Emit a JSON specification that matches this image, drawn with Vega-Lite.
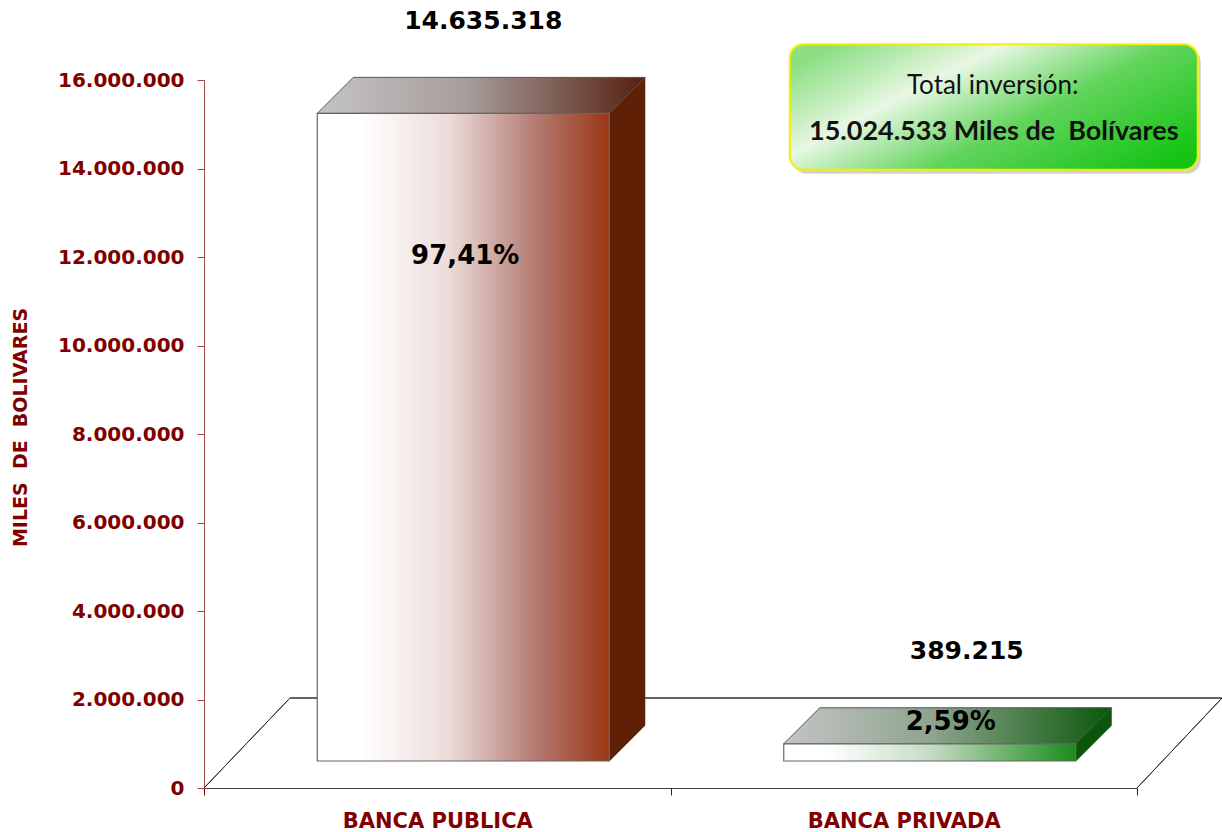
{
  "$schema": "https://vega.github.io/schema/vega-lite/v6.json",
  "width": 933,
  "height": 708,
  "autosize": "none",
  "padding": {"left": 204, "top": 80, "right": 85, "bottom": 44},
  "background": "white",
  "config": {
    "view": {"stroke": null},
    "font": "DejaVu Sans",
    "locale": {"number": {"decimal": ",", "thousands": ".", "grouping": [3], "currency": ["", ""]}},
    "axisY": {
      "tickCount": 8, "format": ",d", "grid": false,
      "titleFont": "DejaVu Sans", "titleFontSize": 19, "titleFontWeight": "bold", "titleColor": "#800000",
      "titleAngle": -90, "titleX": -184, "titleY": 347, "titleAlign": "center", "titleBaseline": "middle",
      "labelFont": "DejaVu Sans", "labelFontSize": 20, "labelFontWeight": "bold", "labelColor": "#800000",
      "labelPadding": 13, "tickSize": 7, "tickColor": "#a04848", "domainColor": "#a04848"
    },
    "axisX": {
      "labelAngle": 0, "labelFont": "DejaVu Sans", "labelFontSize": 21, "labelFontWeight": "bold",
      "labelColor": "#800000", "labelPadding": 15, "labelLimit": 0, "tickSize": 7, "tickColor": "#800000",
      "domainColor": "#404040", "tickBand": "extent", "grid": false
    }
  },
  "data": {"values": [
    {"banca": "BANCA PUBLICA", "monto": 14635318, "pct": "97,41%"},
    {"banca": "BANCA PRIVADA", "monto": 389215, "pct": "2,59%"}
  ]},
  "encoding": {
    "x": {
      "field": "banca", "type": "nominal", "sort": null,
      "scale": {"paddingInner": 0, "paddingOuter": 0},
      "axis": {"title": null}
    }
  },
  "layer": [
    {
      "mark": {"type": "rule", "stroke": "#333333", "strokeWidth": 1, "yOffset": -90, "xOffset": 86, "x2Offset": 85},
      "encoding": {
        "x": {"datum": "BANCA PUBLICA", "bandPosition": 0, "axis": {"title": null}},
        "x2": {"datum": "BANCA PRIVADA", "bandPosition": 1},
        "y": {"datum": 0, "type": "quantitative", "scale": {"domain": [0, 16000000], "nice": false}, "axis": {"title": "MILES \u00a0DE \u00a0BOLIVARES"}}
      }
    },
    {
      "mark": {"type": "rule", "stroke": "#333333", "strokeWidth": 1, "x2Offset": 86, "y2Offset": -90},
      "encoding": {
        "x": {"datum": "BANCA PUBLICA", "bandPosition": 0, "axis": {"title": null}},
        "x2": {"datum": "BANCA PUBLICA", "bandPosition": 0},
        "y": {"datum": 0, "type": "quantitative", "scale": {"domain": [0, 16000000], "nice": false}, "axis": {"title": "MILES \u00a0DE \u00a0BOLIVARES"}},
        "y2": {"datum": 0}
      }
    },
    {
      "mark": {"type": "rule", "stroke": "#333333", "strokeWidth": 1, "x2Offset": 85, "y2Offset": -90},
      "encoding": {
        "x": {"datum": "BANCA PRIVADA", "bandPosition": 1, "axis": {"title": null}},
        "x2": {"datum": "BANCA PRIVADA", "bandPosition": 1},
        "y": {"datum": 0, "type": "quantitative", "scale": {"domain": [0, 16000000], "nice": false}, "axis": {"title": "MILES \u00a0DE \u00a0BOLIVARES"}},
        "y2": {"datum": 0}
      }
    },
    {
      "mark": {"type": "bar", "width": 36, "xOffset": 190, "yOffset": -63, "y2Offset": -27},
      "encoding": {
        "y": {"field": "monto", "type": "quantitative", "scale": {"domain": [0, 16000000], "nice": false}, "axis": {"title": "MILES \u00a0DE \u00a0BOLIVARES"}},
        "y2": {"datum": 0},
        "fill": {"condition": {"test": "datum.banca === 'BANCA PUBLICA'", "value": "#5e1f04"}, "value": "#0a560a"}
      }
    },
    {
      "mark": {"type": "point", "filled": true, "opacity": 1, "size": 4, "xOffset": 26, "yOffset": -27,
        "shape": "M 146 0.5 L 183 0.5 L 183 -36.5 Z", "fill": "#ffffff", "strokeWidth": 0},
      "encoding": {
        "y": {"datum": 0, "type": "quantitative", "scale": {"domain": [0, 16000000], "nice": false}, "axis": {"title": "MILES \u00a0DE \u00a0BOLIVARES"}}
      }
    },
    {
      "mark": {"type": "point", "filled": true, "opacity": 1, "size": 4, "xOffset": 26, "yOffset": -27,
        "shape": "M -146 0 L 146 0 L 182 -36 L -110 -36 Z", "stroke": "#555555", "strokeWidth": 1},
      "encoding": {
        "y": {"field": "monto", "type": "quantitative", "scale": {"domain": [0, 16000000], "nice": false}, "axis": {"title": "MILES \u00a0DE \u00a0BOLIVARES"}},
        "fill": {
          "condition": {"test": "datum.banca === 'BANCA PUBLICA'", "value": {"gradient": "linear", "x1": 0, "x2": 1, "y1": 0, "y2": 0, "stops": [{"offset": 0, "color": "#c4c4c4"}, {"offset": 0.45, "color": "#a89e9c"}, {"offset": 1, "color": "#55200f"}]}},
          "value": {"gradient": "linear", "x1": 0, "x2": 1, "y1": 0, "y2": 0, "stops": [{"offset": 0, "color": "#c4c4c4"}, {"offset": 0.45, "color": "#8ea48e"}, {"offset": 1, "color": "#0b580b"}]}
        }
      }
    },
    {
      "mark": {"type": "bar", "width": 292, "xOffset": 26, "yOffset": -27, "y2Offset": -27, "stroke": "#666666", "strokeWidth": 1.2},
      "encoding": {
        "y": {"field": "monto", "type": "quantitative", "scale": {"domain": [0, 16000000], "nice": false}, "axis": {"title": "MILES \u00a0DE \u00a0BOLIVARES"}},
        "y2": {"datum": 0},
        "fill": {
          "condition": {"test": "datum.banca === 'BANCA PUBLICA'", "value": {"gradient": "linear", "x1": 0, "x2": 1, "y1": 0, "y2": 0, "stops": [{"offset": 0, "color": "#ffffff"}, {"offset": 0.15, "color": "#ffffff"}, {"offset": 0.45, "color": "#ecdcda"}, {"offset": 0.75, "color": "#b37a72"}, {"offset": 1, "color": "#9b3614"}]}},
          "value": {"gradient": "linear", "x1": 0, "x2": 1, "y1": 0, "y2": 0, "stops": [{"offset": 0, "color": "#ffffff"}, {"offset": 0.15, "color": "#ffffff"}, {"offset": 0.5, "color": "#c6dcc6"}, {"offset": 1, "color": "#1a8c1a"}]}
        }
      }
    },
    {
      "transform": [{"filter": "datum.banca === 'BANCA PUBLICA'"}],
      "layer": [
        {
          "mark": {"type": "text", "fontSize": 25, "fontWeight": "bold", "color": "#000000", "dx": 46, "dy": -119, "baseline": "middle"},
          "encoding": {
            "y": {"field": "monto", "type": "quantitative", "scale": {"domain": [0, 16000000], "nice": false}, "axis": {"title": "MILES \u00a0DE \u00a0BOLIVARES"}},
            "text": {"field": "monto", "type": "quantitative", "format": ",d"}
          }
        },
        {
          "mark": {"type": "text", "fontSize": 26, "fontWeight": "bold", "color": "#000000", "dx": 28, "dy": 116, "baseline": "middle"},
          "encoding": {
            "y": {"field": "monto", "type": "quantitative", "scale": {"domain": [0, 16000000], "nice": false}, "axis": {"title": "MILES \u00a0DE \u00a0BOLIVARES"}},
            "text": {"field": "pct"}
          }
        }
      ]
    },
    {
      "transform": [{"filter": "datum.banca === 'BANCA PRIVADA'"}],
      "layer": [
        {
          "mark": {"type": "text", "fontSize": 25, "fontWeight": "bold", "color": "#000000", "dx": 63, "dy": -120, "baseline": "middle"},
          "encoding": {
            "y": {"field": "monto", "type": "quantitative", "scale": {"domain": [0, 16000000], "nice": false}, "axis": {"title": "MILES \u00a0DE \u00a0BOLIVARES"}},
            "text": {"field": "monto", "type": "quantitative", "format": ",d"}
          }
        },
        {
          "mark": {"type": "text", "fontSize": 26, "fontWeight": "bold", "color": "#000000", "dx": 47, "dy": -49, "baseline": "middle"},
          "encoding": {
            "y": {"field": "monto", "type": "quantitative", "scale": {"domain": [0, 16000000], "nice": false}, "axis": {"title": "MILES \u00a0DE \u00a0BOLIVARES"}},
            "text": {"field": "pct"}
          }
        }
      ]
    },
    {
      "data": {"values": [{"etiqueta": "Total inversión:", "total": "15.024.533 Miles de\u00a0 Bolívares"}]},
      "layer": [
        {
          "mark": {"type": "bar", "width": 408, "xOffset": 93, "yOffset": 4, "y2Offset": 4, "cornerRadius": 14, "fill": "#9a9a9a", "opacity": 0.45},
          "encoding": {
            "x": {"datum": "BANCA PRIVADA", "axis": {"title": null}},
            "y": {"datum": 16810000, "type": "quantitative", "scale": {"domain": [0, 16000000], "nice": false}, "axis": {"title": "MILES \u00a0DE \u00a0BOLIVARES"}},
            "y2": {"datum": 13970000}
          }
        },
        {
          "mark": {"type": "bar", "width": 408, "xOffset": 90, "cornerRadius": 14, "stroke": "#f2f200", "strokeWidth": 2,
            "fill": {"gradient": "linear", "x1": 0, "x2": 1, "y1": 0.2, "y2": 0.8, "stops": [{"offset": 0, "color": "#8ede84"}, {"offset": 0.3, "color": "#e8f7e4"}, {"offset": 0.6, "color": "#62d45c"}, {"offset": 1, "color": "#16c416"}]}},
          "encoding": {
            "x": {"datum": "BANCA PRIVADA", "axis": {"title": null}},
            "y": {"datum": 16810000, "type": "quantitative", "scale": {"domain": [0, 16000000], "nice": false}, "axis": {"title": "MILES \u00a0DE \u00a0BOLIVARES"}},
            "y2": {"datum": 13970000}
          }
        },
        {
          "mark": {"type": "text", "font": "Lato", "fontSize": 26, "color": "#111111", "dx": 89, "dy": -21, "baseline": "middle"},
          "encoding": {
            "x": {"datum": "BANCA PRIVADA", "axis": {"title": null}},
            "y": {"datum": 15390000, "type": "quantitative", "scale": {"domain": [0, 16000000], "nice": false}, "axis": {"title": "MILES \u00a0DE \u00a0BOLIVARES"}},
            "text": {"field": "etiqueta"}
          }
        },
        {
          "mark": {"type": "text", "font": "Lato", "fontSize": 27, "fontWeight": "bold", "color": "#111111", "dx": 90, "dy": 25, "baseline": "middle"},
          "encoding": {
            "x": {"datum": "BANCA PRIVADA", "axis": {"title": null}},
            "y": {"datum": 15390000, "type": "quantitative", "scale": {"domain": [0, 16000000], "nice": false}, "axis": {"title": "MILES \u00a0DE \u00a0BOLIVARES"}},
            "text": {"field": "total"}
          }
        }
      ]
    }
  ]
}
